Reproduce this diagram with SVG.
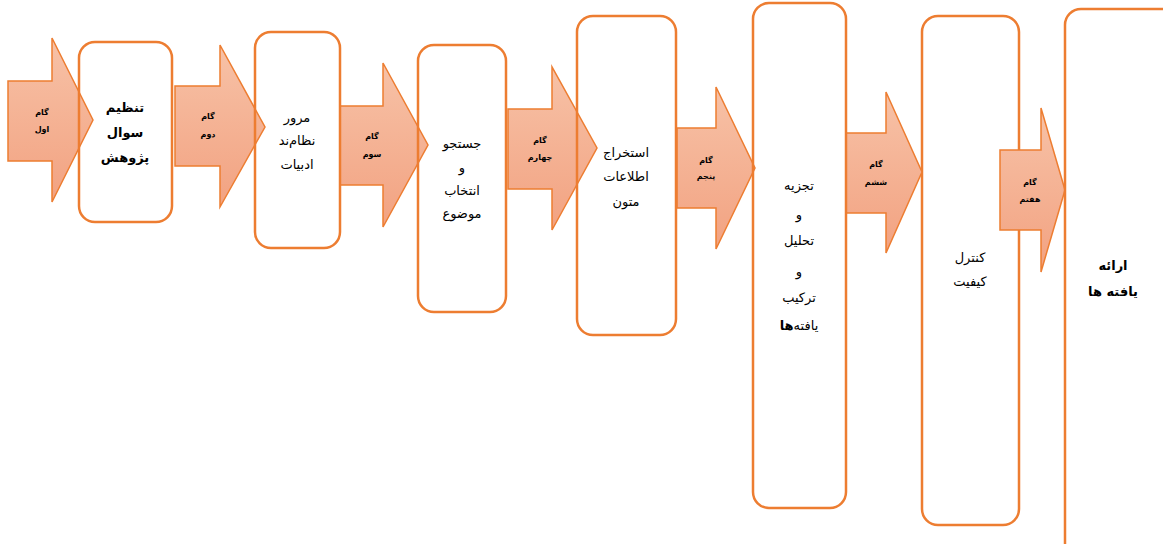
<svg xmlns="http://www.w3.org/2000/svg" width="1163" height="544" viewBox="0 0 1163 544">
<defs>
<linearGradient id="ag" x1="0" y1="0" x2="0" y2="1">
<stop offset="0" stop-color="#F7C2A7"/>
<stop offset="1" stop-color="#F2A281"/>
</linearGradient>
<style>
.arrow{fill:url(#ag);stroke:#ED7D31;stroke-width:1.5;stroke-linejoin:miter}
.box{fill:none;stroke:#ED7D31;stroke-width:2.5}
.lbl{font-family:"DejaVu Sans",sans-serif;font-size:8px;font-weight:bold;fill:#000;text-anchor:middle}
.t{font-family:"DejaVu Sans",sans-serif;font-size:13px;fill:#000;text-anchor:middle}
.tb{font-family:"DejaVu Sans",sans-serif;font-size:13px;font-weight:bold;fill:#000;text-anchor:middle}
</style>
</defs>
<rect x="0" y="0" width="1163" height="544" fill="#fff"/>
<g id="node6">
<rect class="box" x="922" y="16" width="97" height="509" rx="16"/>
<text class="t" x="970" y="262">کنترل</text>
<text class="t" x="970" y="286">کیفیت</text>
</g>
<g id="connectors">
<g id="step1"><polygon class="arrow" points="8,81 52,81 52,38 93,120 52,202 52,161 8,161"/>
<text class="lbl" x="42" y="115">گام</text><text class="lbl" x="42" y="132">اول</text></g>
<g id="step2"><polygon class="arrow" points="175,86 220,86 220,45 265,127 220,207 220,166 175,166"/>
<text class="lbl" x="208" y="119">گام</text><text class="lbl" x="208" y="137">دوم</text></g>
<g id="step3"><polygon class="arrow" points="340,106 383,106 383,63 428,145 383,227 383,185 340,185"/>
<text class="lbl" x="372" y="139">گام</text><text class="lbl" x="372" y="157">سوم</text></g>
<g id="step4"><polygon class="arrow" points="508,109 552,109 552,67 597,148 552,230 552,189 508,189"/>
<text class="lbl" x="540" y="143">گام</text><text class="lbl" x="540" y="160">چهارم</text></g>
<g id="step5"><polygon class="arrow" points="677,128 716,128 716,87 755,168 716,249 716,208 677,208"/>
<text class="lbl" x="706" y="163">گام</text><text class="lbl" x="706" y="179">پنجم</text></g>
<g id="step6"><polygon class="arrow" points="846,133 886,133 886,92 922,172 886,253 886,213 846,213"/>
<text class="lbl" x="876" y="167">گام</text><text class="lbl" x="876" y="185">ششم</text></g>
<g id="step7"><polygon class="arrow" points="1000,150 1041,150 1041,108 1065,190 1041,272 1041,230 1000,230"/>
<text class="lbl" x="1030" y="185">گام</text><text class="lbl" x="1030" y="202">هفتم</text></g>
</g>
<g id="node1">
<rect class="box" x="79" y="42" width="93" height="180" rx="16"/>
<text class="tb" x="125" y="112" font-size="14">تنظیم</text>
<text class="tb" x="125" y="137" font-size="14">سوال</text>
<text class="tb" x="125" y="162" font-size="14">پژوهش</text>
</g>
<g id="node2">
<rect class="box" x="255" y="32" width="85" height="216" rx="16"/>
<text class="t" x="297" y="122" font-size="12">مرور</text>
<text class="t" x="297" y="145" font-size="12">نظام‌ند</text>
<text class="t" x="297" y="169" font-size="12">ادبیات</text>
</g>
<g id="node3">
<rect class="box" x="418" y="45" width="88" height="267" rx="16"/>
<text class="t" x="462" y="148" font-size="12">جستجو</text>
<text class="t" x="462" y="172" font-size="12">و</text>
<text class="t" x="462" y="195" font-size="12">انتخاب</text>
<text class="t" x="462" y="218" font-size="12">موضوع</text>
</g>
<g id="node4">
<rect class="box" x="577" y="16" width="99" height="319" rx="16"/>
<text class="t" x="626" y="157">استخراج</text>
<text class="t" x="626" y="181">اطلاعات</text>
<text class="t" x="626" y="206">متون</text>
</g>
<g id="node5">
<rect class="box" x="753" y="3" width="93" height="505" rx="16"/>
<text class="t" x="799" y="190" font-size="14">تجزیه</text>
<text class="t" x="799" y="219" font-size="14">و</text>
<text class="t" x="799" y="245" font-size="14">تحلیل</text>
<text class="t" x="799" y="276" font-size="14">و</text>
<text class="t" x="799" y="302" font-size="14">ترکیب</text>
<text class="t" x="799" y="330" font-size="14">یافته‌<tspan font-weight="bold">ها</tspan></text>
</g>
<g id="node7">
<rect class="box" x="1065" y="9" width="118" height="550" rx="16"/>
<text class="tb" x="1113" y="270">ارائه</text>
<text class="tb" x="1113" y="296">یافته ها</text>
</g>
</svg>
